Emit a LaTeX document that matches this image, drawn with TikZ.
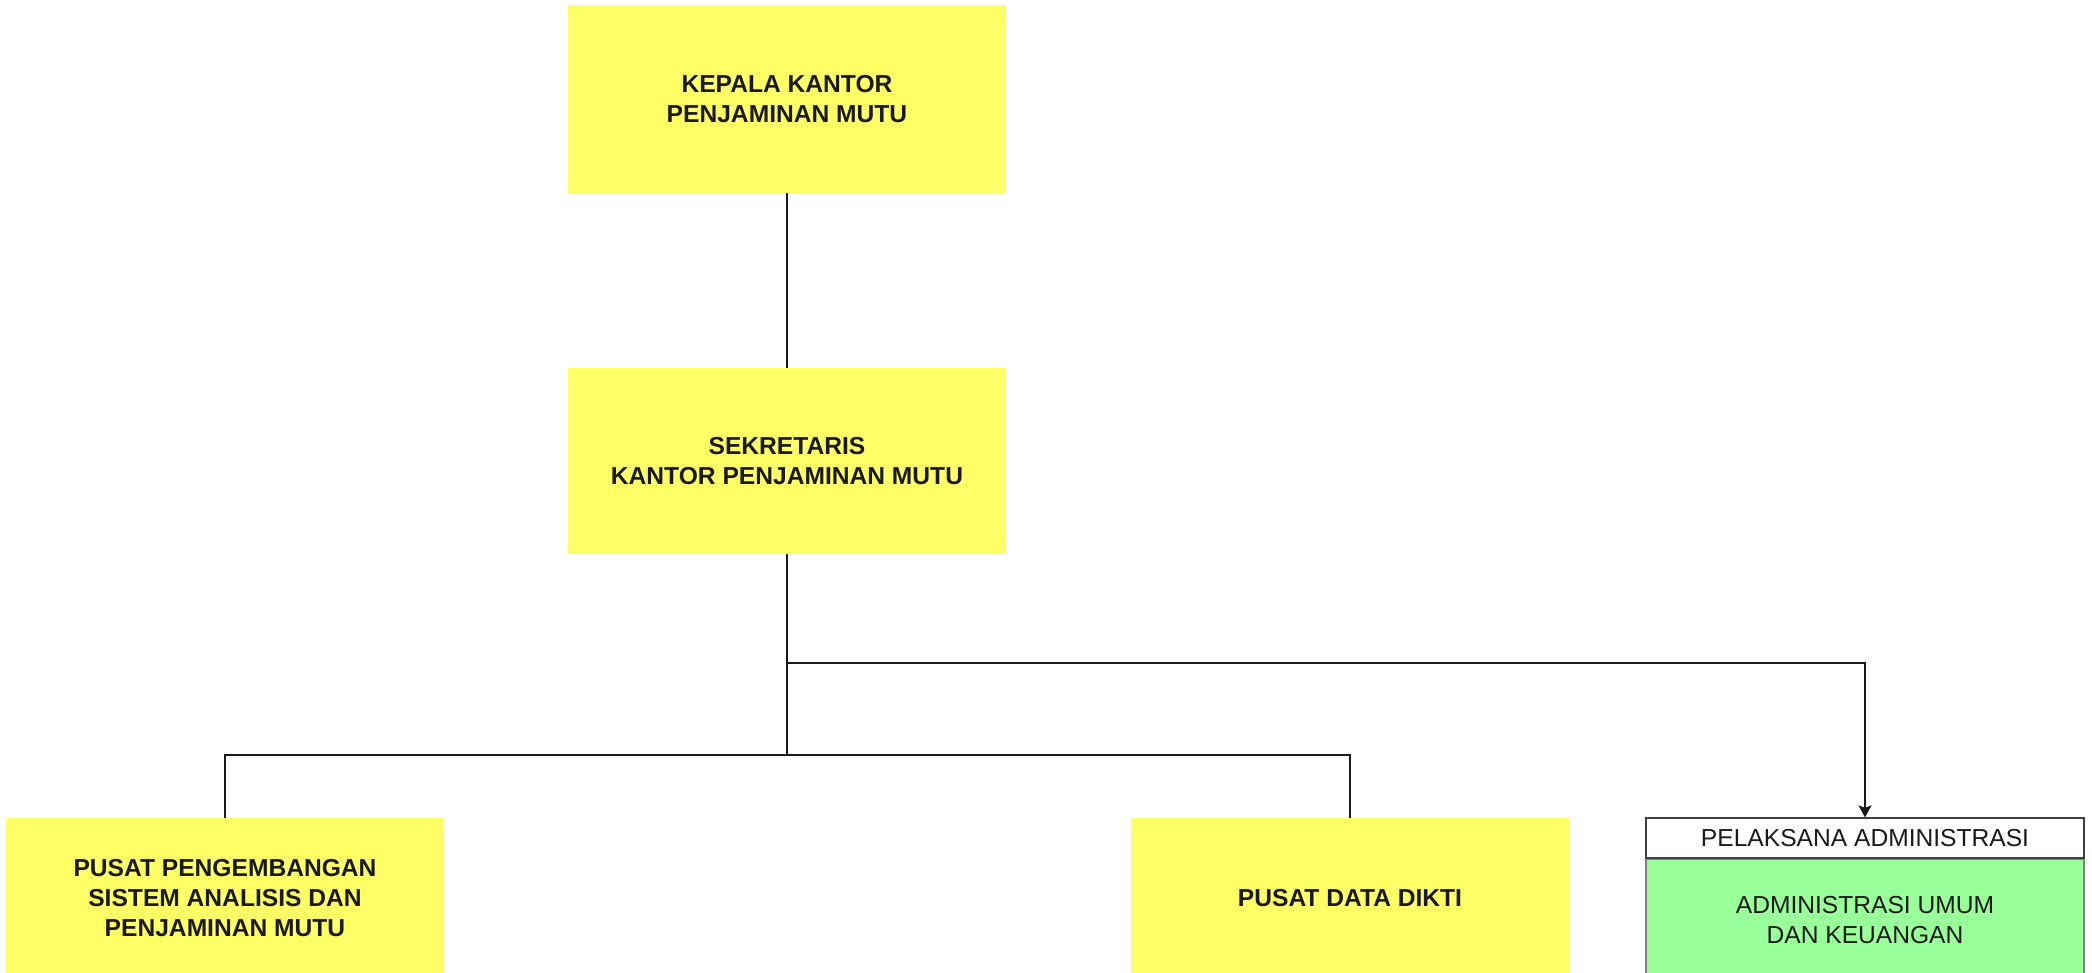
\documentclass[tikz,border=0pt]{standalone}
\usepackage{fontspec}
\setmainfont{Liberation Sans}
\usepackage[HTML]{xcolor}
\usepackage{tikz}
\usetikzlibrary{positioning, arrows, arrows.meta}
\definecolor{boxyellow}{HTML}{FFFF66}
\definecolor{boxgreen}{HTML}{99FF99}
\definecolor{ink}{HTML}{1A1A1A}

\begin{document}
\begin{tikzpicture}[x=0.5pt,y=-0.5pt,
  unit/.style={fill=boxyellow,text=ink,font=\fontsize{12.3}{15}\selectfont\bfseries,
    align=center,inner sep=0pt,minimum width=219pt},
  header/.style={draw=black!75,fill=white,text=ink,font=\fontsize{12.3}{15}\selectfont,
    align=center,inner sep=0pt,minimum width=219pt,minimum height=20pt,line width=0.6pt},
  staff/.style={draw=black!50,fill=boxgreen,text=ink,font=\fontsize{12.3}{15}\selectfont,
    align=center,inner sep=0pt,minimum width=219pt,minimum height=61pt,line width=0.6pt},
  link/.style={line width=0.75pt,black!90}]
\clip (0,0) rectangle (2092,973);
\node[unit,minimum height=94pt] (kepala) at (787,99) {KEPALA KANTOR\\PENJAMINAN MUTU};
\node[unit,minimum height=93pt] (sekretaris) at (787,461) {SEKRETARIS\\KANTOR PENJAMINAN MUTU};
\node[unit,minimum height=80pt] (pusatsistem) at (225,898) {PUSAT PENGEMBANGAN\\SISTEM ANALISIS DAN\\PENJAMINAN MUTU};
\node[unit,minimum height=80pt] (pusatdata) at (1350,898) {PUSAT DATA DIKTI};
\node[header] (pelaksana) at (1865,838) {PELAKSANA ADMINISTRASI};
\node[staff,below=0pt of pelaksana] (admin) {ADMINISTRASI UMUM\\DAN KEUANGAN};
\coordinate (tap) at (787,663);
\coordinate (bus) at (787,755);
\draw[link] (kepala.south) -- (sekretaris.north);
\draw[link] (sekretaris.south) -- (bus);
\draw[link] (bus) -| (pusatsistem.north);
\draw[link] (bus) -| (pusatdata.north);
\draw[link,-{Stealth[length=6pt,width=6.5pt,inset=1.2pt]}] (tap) -| (pelaksana.north);
\end{tikzpicture}
\end{document}
